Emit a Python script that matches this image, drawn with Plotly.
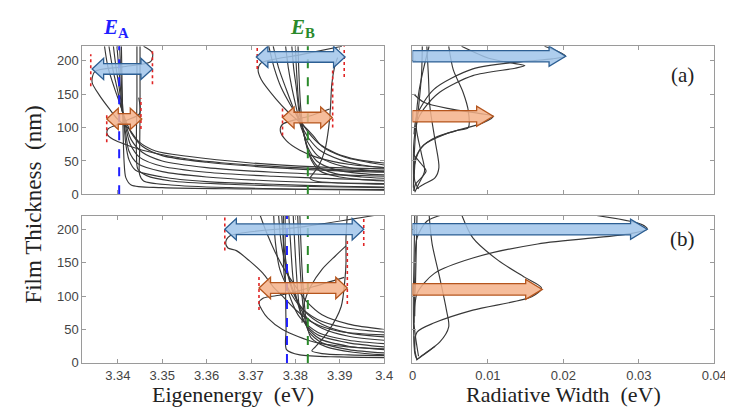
import plotly.graph_objects as go

# ---------------- data ----------------
ENERGY_TICKS = [3.34, 3.35, 3.36, 3.37, 3.38, 3.39, 3.4]
ENERGY_TICK_TEXT = ["3.34", "3.35", "3.36", "3.37", "3.38", "3.39", "3.4"]
WIDTH_TICKS = [0, 0.01, 0.02, 0.03, 0.04]
WIDTH_TICK_TEXT = ["0", "0.01", "0.02", "0.03", "0.04"]
THICK_TICKS = [0, 50, 100, 150, 200]

E_A_TOP = 3.3403
E_B_TOP = 3.3828
E_A_BOT = 3.3781
E_B_BOT = 3.3828

# panel (a) eigenenergy curves  (energy eV, thickness nm)
A_S1 = [(3.3458,222),(3.3478,212),(3.3474,199),(3.341,191),(3.3348,184),(3.3342,168),(3.3359,148),
        (3.3381,128),(3.3399,113),(3.3425,98),(3.3447,79),(3.3485,65),(3.3557,57),(3.37,47),(3.385,41),(3.4,38)]
A_S2 = [(3.3447,145),(3.3449,121),(3.342,111),(3.3397,104),(3.3378,98),(3.3376,90),(3.339,82),(3.342,74),
        (3.3463,65),(3.3557,53),(3.37,44),(3.39,37),(3.4,35)]
A_K1 = [(3.3370,222),(3.3378,190),(3.3392,160),(3.3405,135),(3.3418,110),(3.3432,90),(3.3455,72),(3.350,58),(3.36,48),(3.375,40),(3.39,35),(3.4,33)]
A_K2 = [(3.3380,222),(3.3388,190),(3.3398,160),(3.3408,130),(3.3418,105),(3.343,82),(3.3455,63),(3.350,50),(3.36,40),(3.375,33),(3.39,29),(3.4,27)]
A_K3 = [(3.3390,222),(3.3396,190),(3.3403,160),(3.341,125),(3.3418,100),(3.3428,75),(3.345,55),(3.350,42),(3.36,33),(3.375,27),(3.39,23),(3.4,21)]
A_K4 = [(3.3398,222),(3.3402,190),(3.3407,150),(3.3412,115),(3.3418,90),(3.3425,65),(3.3445,46),(3.350,34),(3.36,26),(3.375,20),(3.39,17),(3.4,16)]
A_K5 = [(3.3404,222),(3.3407,180),(3.341,140),(3.3414,105),(3.3418,75),(3.3425,52),(3.344,36),(3.350,26),(3.36,19),(3.375,15),(3.39,12),(3.4,11)]
A_K6 = [(3.3443,222),(3.3443,180),(3.3443,140),(3.3442,100),(3.3442,60),(3.3445,38),(3.3465,28),(3.352,20),(3.365,15),(3.38,12),(3.4,10)]
A_K7 = [(3.3450,222),(3.3450,180),(3.3450,120),(3.3449,60),(3.3449,30),(3.3458,20),(3.352,14),(3.365,10),(3.38,8),(3.4,7)]
A_K8 = [(3.3408,222),(3.341,150),(3.3412,90),(3.3414,50),(3.3418,25),(3.343,14),(3.35,10),(3.37,8),(3.4,6)]
B_S1 = [(3.3905,222),(3.381,209),(3.3723,197),(3.3716,187),(3.3723,172),(3.3756,143),(3.3784,123),(3.3815,105),
        (3.384,88),(3.386,72),(3.391,56),(3.4,44)]
B_S2 = [(3.3877,128),(3.383,117),(3.3771,105),(3.3766,95),(3.378,80),(3.381,66),(3.385,55),(3.392,45),(3.4,40)]
B_R1 = [(3.3895,205),(3.3888,190),(3.3882,165),(3.3879,130),(3.3875,100),(3.3866,65),(3.3852,42),(3.384,31),
        (3.3833,24),(3.3845,20),(3.39,17),(3.4,15)]
B_K1 = [(3.3740,222),(3.3752,190),(3.3768,160),(3.3788,135),(3.381,112),(3.383,92),(3.3855,75),(3.389,62),(3.394,52),(3.4,47)]
B_K2 = [(3.3750,222),(3.3762,190),(3.3778,160),(3.3795,130),(3.3812,105),(3.383,84),(3.3855,66),(3.39,52),(3.395,44),(3.4,40)]
B_K3 = [(3.3778,222),(3.3784,190),(3.3792,160),(3.3802,130),(3.3813,100),(3.3828,78),(3.385,58),(3.389,45),(3.395,37),(3.4,34)]
B_K4 = [(3.3792,222),(3.3796,190),(3.3802,160),(3.3808,125),(3.3817,95),(3.3828,70),(3.3848,50),(3.389,37),(3.395,31),(3.4,29)]
B_K5 = [(3.3800,222),(3.3803,180),(3.3807,140),(3.3813,110),(3.3821,85),(3.3832,60),(3.385,42),(3.389,31),(3.395,26),(3.4,24)]
B_K6 = [(3.3806,222),(3.3808,180),(3.3812,130),(3.3818,95),(3.3826,70),(3.3837,50),(3.3855,35),(3.39,26),(3.395,22),(3.4,20)]
PANEL_A_CURVES = [A_S1, A_S2, A_K1, A_K2, A_K3, A_K4, A_K5, A_K6, A_K7, A_K8,
                  B_S1, B_S2, B_R1, B_K1, B_K2, B_K3, B_K4, B_K5, B_K6]

# panel (a) radiative widths (eV, nm)
T1 = [(0.0065,222),(0.0101,204),(0.0136,196),(0.0149,193),(0.0136,189),(0.008,178),(0.0036,153),(0.0015,128),(0.0006,109),(0.0002,80),(0.0001,40),(0.0002,5)]
T2 = [(0.0175,222),(0.0197,212),(0.0203,207),(0.0185,203),(0.0145,199),(0.008,188),(0.0028,157),(0.0006,119),(0.0002,90)]
T3 = [(0.0048,222),(0.0054,187),(0.0067,153),(0.0074,125),(0.0074,100),(0.006,96),(0.003,85),(0.0012,70),(0.0004,50),(0.0003,20),(0.0008,8)]
T4 = [(0.0002,150),(0.0015,138),(0.005,128),(0.009,121),(0.0107,117),(0.0093,107),(0.0045,91),(0.0015,74),(0.0004,54),(0.0002,30)]
T5 = [(0.0013,222),(0.0012,180),(0.0008,130),(0.0004,90),(0.0002,50),(0.0001,10)]
T6 = [(0.0022,222),(0.0015,190),(0.0008,150),(0.0005,100),(0.0012,60),(0.0016,35),(0.0008,15),(0.0003,3)]
T7 = [(0.0019,222),(0.0021,180),(0.0023,132),(0.003,80),(0.0035,40),(0.003,25),(0.0015,15),(0.0005,8)]
T8 = [(0.0001,60),(0.0012,45),(0.0018,35),(0.0012,25),(0.0004,15),(0.0002,5)]
PANEL_A_WIDTHS = [T1, T2, T3, T4, T5, T6, T7, T8]

# panel (b) eigenenergy curves
C_0 = [(3.372,222),(3.3735,195),(3.3755,165),(3.3775,140),(3.380,115),(3.3825,92),(3.386,72),(3.392,58),(3.4,50)]
C_1 = [(3.3751,222),(3.3755,180),(3.3765,140),(3.3785,110),(3.381,85),(3.385,65),(3.391,53),(3.4,46)]
C_2 = [(3.3762,222),(3.3768,180),(3.378,140),(3.3795,105),(3.382,78),(3.386,58),(3.392,45),(3.4,39)]
C_3 = [(3.3769,222),(3.3775,170),(3.3785,130),(3.380,100),(3.382,72),(3.386,52),(3.392,40),(3.4,34)]
C_4 = [(3.3773,222),(3.3773,170),(3.3775,130),(3.379,95),(3.381,68),(3.385,46),(3.392,34),(3.4,29)]
C_5 = [(3.3785,222),(3.379,170),(3.3795,125),(3.3805,90),(3.382,62),(3.385,42),(3.392,30),(3.4,24)]
C_6 = [(3.3795,222),(3.380,160),(3.3805,110),(3.381,80),(3.3825,55),(3.3855,36),(3.392,25),(3.4,20)]
C_7 = [(3.3805,222),(3.381,150),(3.3815,100),(3.382,70),(3.383,47),(3.386,30),(3.392,20),(3.4,15)]
C_8 = [(3.381,222),(3.3815,140),(3.382,90),(3.3825,60),(3.3835,38),(3.387,24),(3.393,16),(3.4,12)]
C_9 = [(3.3777,222),(3.3777,150),(3.3778,100),(3.3779,50),(3.378,20),(3.381,12),(3.39,9),(3.4,8)]
C_S1 = [(3.3991,222),(3.382,204),(3.3652,190),(3.3643,180),(3.3648,172),(3.3667,168),(3.3696,153),(3.3727,134),
        (3.3751,113),(3.3771,100),(3.380,80),(3.384,60),(3.39,47),(3.4,42)]
C_S2 = [(3.391,128),(3.384,114),(3.3771,102),(3.3728,97),(3.3718,90),(3.3724,80),(3.3738,67),(3.3771,50),
        (3.3844,31),(3.392,24),(3.4,21)]
C_R1 = [(3.3917,222),(3.3914,187),(3.3914,150),(3.3912,128),(3.3903,84),(3.3873,46),(3.3845,24),(3.3837,18),(3.386,14),(3.392,12),(3.4,11)]
C_R2 = [(3.3914,175),(3.389,160),(3.386,140),(3.3835,115),(3.382,90),(3.3815,60)]
PANEL_B_CURVES = [C_0, C_1, C_2, C_3, C_4, C_5, C_6, C_7, C_8, C_9, C_S1, C_S2, C_R1, C_R2]

# panel (b) radiative widths
U1 = [(0.0236,222),(0.0304,207),(0.0311,200),(0.0287,193),(0.0166,178),(0.008,157),(0.0029,134),(0.0006,104),(0.0003,70)]
U2 = [(0.0065,222),(0.008,187),(0.0114,153),(0.0149,128),(0.0171,112),(0.0158,99),(0.008,79),(0.0029,60),(0.0006,46),(0.0003,20)]
U3 = [(0.0041,222),(0.0019,212),(0.0006,187),(0.0003,128),(0.0002,60)]
U4 = [(0.0022,222),(0.0026,178),(0.0036,128),(0.0045,79),(0.0048,54),(0.0036,31),(0.001,9),(0.0005,4)]
U5 = [(0.0002,40),(0.0003,15),(0.0006,6),(0.0018,15),(0.003,25)]
U6 = [(0.0003,222),(0.0002,150),(0.0001,80),(0.0003,20),(0.0006,5)]
U7 = [(0.0006,222),(0.0004,120),(0.0002,60),(0.0008,10)]
PANEL_B_WIDTHS = [U1, U2, U3, U4, U5, U6, U7]

# block arrows: (start, end, thickness level)
A_BLUE_ARROWS = [(3.3342, 3.3478, 188), (3.3712, 3.3912, 206)]
A_ORANGE_ARROWS = [(3.3375, 3.3454, 113), (3.3771, 3.3883, 115)]
B_BLUE_ARROWS = [(3.3641, 3.3954, 200)]
B_ORANGE_ARROWS = [(3.3718, 3.3917, 112)]
A_WIDTH_ARROWS = [(0.0203, 207, "blue"), (0.0107, 117, "orange")]
B_WIDTH_ARROWS = [(0.0311, 200, "blue"), (0.0172, 110, "orange")]

# red dotted markers: (energy, y_low, y_high)
A_RED_MARKS = [(3.3339,162,210),(3.3478,165,216),(3.3375,78,122),(3.3452,98,144),
               (3.3714,188,222),(3.3910,176,222),(3.3771,88,132),(3.3884,100,187)]
B_RED_MARKS = [(3.3641,168,220),(3.3954,175,219),(3.3718,79,132),(3.3917,88,184)]

# ---------------- figure ----------------
LINE = dict(color="#383838", width=1.15, shape="spline", smoothing=0.8)
fig = go.Figure()

def add_curves(curves, xa, ya):
    for c in curves:
        fig.add_trace(go.Scatter(x=[p[0] for p in c], y=[p[1] for p in c], mode="lines",
                                 line=LINE, xaxis=xa, yaxis=ya, showlegend=False, hoverinfo="skip"))

add_curves(PANEL_A_CURVES, "x", "y")
add_curves(PANEL_A_WIDTHS, "x2", "y2")
add_curves(PANEL_B_CURVES, "x3", "y3")
add_curves(PANEL_B_WIDTHS, "x4", "y4")

def add_vline(xv, color, xa, ya, ytop):
    fig.add_trace(go.Scatter(x=[xv, xv], y=[0, ytop], mode="lines",
                             line=dict(color=color, width=2, dash="dash"),
                             xaxis=xa, yaxis=ya, showlegend=False, hoverinfo="skip", cliponaxis=False))

add_vline(E_A_TOP, "#1f1fff", "x", "y", 230)
add_vline(E_B_TOP, "#2a8a2a", "x", "y", 230)
add_vline(E_A_BOT, "#1f1fff", "x3", "y3", 220)
add_vline(E_B_BOT, "#2a8a2a", "x3", "y3", 220)

for marks, xa, ya in [(A_RED_MARKS, "x", "y"), (B_RED_MARKS, "x3", "y3")]:
    for xv, y0, y1 in marks:
        fig.add_trace(go.Scatter(x=[xv, xv], y=[y0, y1], mode="lines",
                                 line=dict(color="#e02525", width=1.6, dash="dot"),
                                 xaxis=xa, yaxis=ya, showlegend=False, hoverinfo="skip"))

BLUE_FILL, BLUE_EDGE = "rgba(160,196,234,0.85)", "#2d5f93"
ORANGE_FILL, ORANGE_EDGE = "rgba(244,178,138,0.85)", "#b5561e"

def double_arrow(x0, x1, y, hl, sh, hh):
    pts = [(x0, y), (x0 + hl, y + hh), (x0 + hl, y + sh), (x1 - hl, y + sh), (x1 - hl, y + hh),
           (x1, y), (x1 - hl, y - hh), (x1 - hl, y - sh), (x0 + hl, y - sh), (x0 + hl, y - hh)]
    return "M " + " L ".join(f"{px},{py}" for px, py in pts) + " Z"

def single_arrow(x1, y, hl, sh, hh):
    pts = [(0, y + sh), (x1 - hl, y + sh), (x1 - hl, y + hh), (x1, y),
           (x1 - hl, y - hh), (x1 - hl, y - sh), (0, y - sh)]
    return "M " + " L ".join(f"{px},{py}" for px, py in pts) + " Z"

shapes = []
for arrows, fill, edge, xr, yr in [(A_BLUE_ARROWS, BLUE_FILL, BLUE_EDGE, "x", "y"),
                                   (A_ORANGE_ARROWS, ORANGE_FILL, ORANGE_EDGE, "x", "y"),
                                   (B_BLUE_ARROWS, BLUE_FILL, BLUE_EDGE, "x3", "y3"),
                                   (B_ORANGE_ARROWS, ORANGE_FILL, ORANGE_EDGE, "x3", "y3")]:
    for x0, x1, yv in arrows:
        shapes.append(dict(type="path", path=double_arrow(x0, x1, yv, 0.0026, 8, 16),
                           xref=xr, yref=yr, fillcolor=fill, line=dict(color=edge, width=1.3), layer="above"))
for arrows, xr, yr in [(A_WIDTH_ARROWS, "x2", "y2"), (B_WIDTH_ARROWS, "x4", "y4")]:
    for x1, yv, col in arrows:
        fill, edge = (BLUE_FILL, BLUE_EDGE) if col == "blue" else (ORANGE_FILL, ORANGE_EDGE)
        shapes.append(dict(type="path", path=single_arrow(x1, yv, 0.0022, 8.5, 15),
                           xref=xr, yref=yr, fillcolor=fill, line=dict(color=edge, width=1.3), layer="above"))

W, H = 733, 410
def dx(p0, p1): return [p0 / W, p1 / W]
def dy(t, b): return [1 - b / H, 1 - t / H]

TICKFONT = dict(family="Liberation Sans", size=13, color="#444444")
common = dict(showline=True, linecolor="#9a9a9a", linewidth=1, mirror="allticks", ticks="inside",
              ticklen=4, tickcolor="#9a9a9a", showgrid=False, zeroline=False, tickfont=TICKFONT)

fig.update_layout(
    width=W, height=H, margin=dict(l=0, r=0, t=0, b=0),
    paper_bgcolor="white", plot_bgcolor="white", showlegend=False,
    xaxis=dict(domain=dx(72, 381), range=[3.332, 3.4], tickvals=ENERGY_TICKS, showticklabels=False, anchor="y", **common),
    yaxis=dict(domain=dy(39, 190), range=[0, 222], tickvals=THICK_TICKS, anchor="x", **common),
    xaxis2=dict(domain=dx(410, 719), range=[0, 0.04], tickvals=WIDTH_TICKS, showticklabels=False, anchor="y2", **common),
    yaxis2=dict(domain=dy(39, 190), range=[0, 222], tickvals=THICK_TICKS, showticklabels=False, anchor="x2", **common),
    xaxis3=dict(domain=dx(72, 381), range=[3.332, 3.4], tickvals=ENERGY_TICKS, ticktext=ENERGY_TICK_TEXT, anchor="y3", **common),
    yaxis3=dict(domain=dy(212, 362), range=[0, 220], tickvals=THICK_TICKS, anchor="x3", **common),
    xaxis4=dict(domain=dx(410, 719), range=[0, 0.04], tickvals=WIDTH_TICKS, ticktext=WIDTH_TICK_TEXT, anchor="y4", **common),
    yaxis4=dict(domain=dy(212, 362), range=[0, 220], tickvals=THICK_TICKS, showticklabels=False, anchor="x4", **common),
    shapes=shapes,
)

SERIF = "Liberation Serif"
ann = [
    dict(text="Film Thickness\u00a0 (nm)", x=22 / W, y=1 - 200 / H, textangle=-90, font=dict(family=SERIF, size=23, color="#222")),
    dict(text="Eigenenergy\u00a0 (eV)", x=226 / W, y=1 - 394 / H, font=dict(family=SERIF, size=22, color="#222")),
    dict(text="Radiative Width\u00a0 (eV)", x=565 / W, y=1 - 394 / H, font=dict(family=SERIF, size=22, color="#222")),
    dict(text="<b><i>E</i><sub>A</sub></b>", x=106 / W, y=1 - 20 / H, font=dict(family=SERIF, size=21, color="#1f1fff")),
    dict(text="<b><i>E</i><sub>B</sub></b>", x=297 / W, y=1 - 20 / H, font=dict(family=SERIF, size=21, color="#2a8a2a")),
    dict(text="(a)", x=686 / W, y=1 - 68 / H, font=dict(family=SERIF, size=21, color="#222")),
    dict(text="(b)", x=686 / W, y=1 - 236 / H, font=dict(family=SERIF, size=21, color="#222")),
]
for a in ann:
    a.update(xref="paper", yref="paper", showarrow=False, xanchor="center", yanchor="middle")
fig.update_layout(annotations=ann)

fig.write_html("out.html")
